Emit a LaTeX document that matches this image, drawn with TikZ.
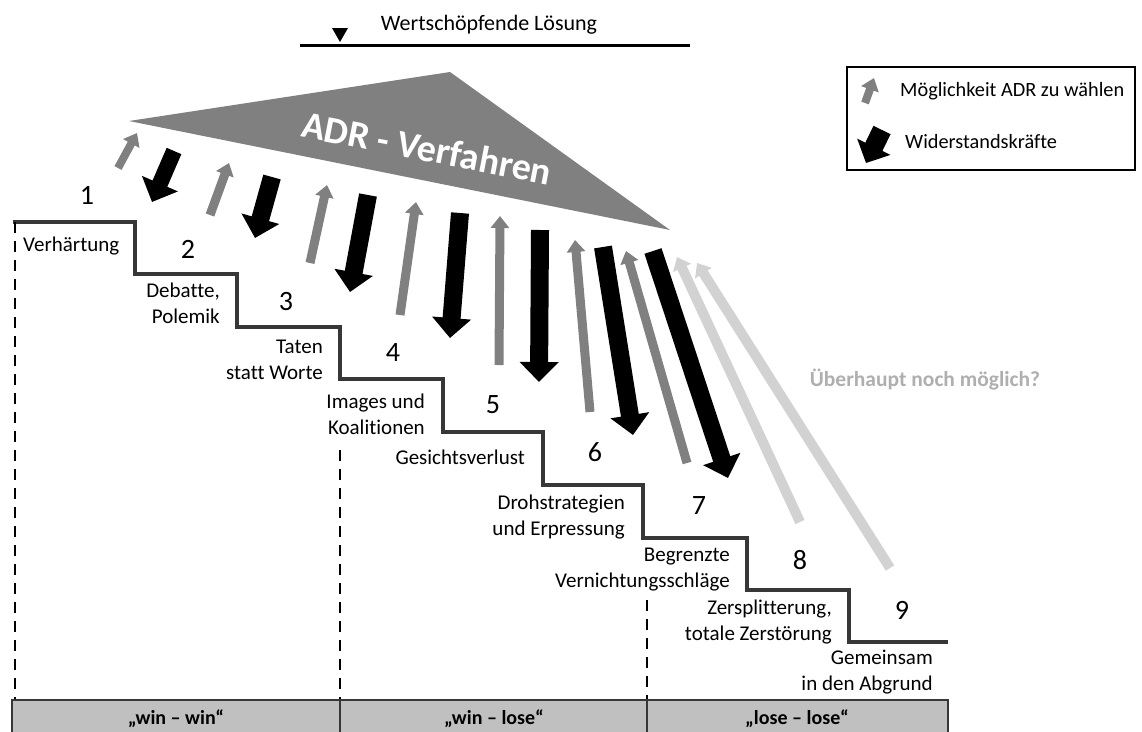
\documentclass[tikz,border=0pt]{standalone}
\usepackage{fontspec}
\setmainfont[Ligatures=NoCommon]{Carlito}
\usetikzlibrary{arrows.meta}
\definecolor{adrgrey}{RGB}{128,128,128}
\definecolor{faintgrey}{RGB}{210,210,210}
\definecolor{stairgrey}{RGB}{55,55,55}
\definecolor{barfill}{RGB}{192,192,192}
\definecolor{questgrey}{RGB}{175,175,175}
\begin{document}
\begin{tikzpicture}[x=1pt, y=-1pt,
	stufe/.style={font=\fontsize{21}{26}\selectfont, align=right, inner sep=0pt},
	nummer/.style={font=\fontsize{28}{30}\selectfont, inner sep=0pt},
	chance/.style={draw=adrgrey, line width=9pt, -{Triangle[width=18pt,length=12pt]}},
	resist/.style={draw=black, line width=18pt, -{Triangle[width=38pt,length=20pt]}},
	faint/.style={draw=faintgrey, line width=10pt, -{Triangle[width=19pt,length=12pt]}},
	grenze/.style={line width=2.5pt, dash pattern=on 11pt off 8pt}]

		\useasboundingbox (0,0) rectangle (1142,731);

		% Define the nodes
		\node[font=\fontsize{22}{26}\selectfont] (loesung) at (489,25) {Wertschöpfende Lösung};
		\fill[adrgrey] (129,121) -- (450,72) -- (670,230) -- cycle;
		\node[rotate=-11, text=white, font=\fontsize{38}{40}\selectfont\bfseries] (adr) at (427,148) {ADR - Verfahren};
		\node[font=\fontsize{21.5}{26}\selectfont\bfseries, text=questgrey] (moeglich) at (925,380) {Überhaupt noch möglich?};

		% Legend
		\draw[line width=1.5pt] (847,67) rectangle (1135,170);
		\node[stufe, font=\fontsize{20.3}{26}\selectfont, anchor=west] (legchance) at (900,91) {Möglichkeit ADR zu wählen};
		\node[stufe, font=\fontsize{20.3}{26}\selectfont, anchor=west] (legresist) at (905,142) {Widerstandskräfte};
		\draw[chance, line width=8pt] (865,103) -- (874,78);
		\draw[resist, line width=19pt, -{Triangle[width=36pt,length=18pt]}] (882,130) -- (866,163);

		% Define the edges
		\draw[line width=3pt] (300,45) -- (690,45);
		\fill (332,28) -- (348,28) -- (340,42) -- cycle;
		\draw[stairgrey, line width=4pt] (13,222) -| (135,274) -| (237,327) -| (340,379) -| (443,432)
			-| (543,485) -| (643,538) -| (747,590) -| (849,642) -- (948,642);
		\draw[grenze] (15,222) -- (15,700);
		\draw[grenze] (340,450) -- (340,700);
		\draw[grenze] (647,600) -- (647,700);

		% Add arrows
		\draw[chance, line width=8pt] (118,168) -- (137,133);
		\draw[resist, line width=16pt] (174,151) -- (152,202);
		\draw[chance] (210,215) -- (229,163);
		\draw[resist] (272,177) -- (255,238);
		\draw[chance] (310,263) -- (327,185);
		\draw[resist] (368,195) -- (350,292);
		\draw[chance] (400,315) -- (416,202);
		\draw[resist] (460,213) -- (450,338);
		\draw[chance] (499,365) -- (500,216);
		\draw[resist] (540,230) -- (539,382);
		\draw[chance] (590,412) -- (575,240);
		\draw[resist] (603,247) -- (633,435);
		\draw[chance] (687,463) -- (626,251);
		\draw[resist] (653,251) -- (728,478);
		\draw[faint] (800,522) -- (677,257);
		\draw[faint] (890,568) -- (697,263);

		% Add labels for steps
		\node[nummer] (n1) at (87,195) {1};
		\node[nummer] (n2) at (188,249) {2};
		\node[nummer] (n3) at (286,302) {3};
		\node[nummer] (n4) at (393,353) {4};
		\node[nummer] (n5) at (493,405) {5};
		\node[nummer] (n6) at (595,452) {6};
		\node[nummer] (n7) at (699,506) {7};
		\node[nummer] (n8) at (800,560) {8};
		\node[nummer] (n9) at (902,610) {9};

		\node[stufe, anchor=west] (verhaertung) at (23,246) {Verhärtung};
		\node[stufe, anchor=east] (debatte) at (220,303) {Debatte,\\Polemik};
		\node[stufe, anchor=east] (taten) at (323,360) {Taten\\statt Worte};
		\node[stufe, anchor=east] (images) at (425,414) {Images und\\Koalitionen};
		\node[stufe, anchor=east] (gesicht) at (525,457) {Gesichtsverlust};
		\node[stufe, anchor=east] (droh) at (625,517) {Drohstrategien\\und Erpressung};
		\node[stufe, anchor=east] (begrenzt) at (730,570) {Begrenzte\\Vernichtungsschläge};
		\node[stufe, anchor=east] (zersplitter) at (832,622) {Zersplitterung,\\totale Zerstörung};
		\node[stufe, anchor=east] (abgrund) at (933,672) {Gemeinsam\\in den Abgrund};

		% Add labels for outcomes
		\draw[fill=barfill, draw=stairgrey, line width=2pt] (12,700) rectangle (948,736);
		\draw[stairgrey, line width=2pt] (340,700) -- (340,736);
		\draw[stairgrey, line width=2pt] (647,700) -- (647,736);
		\node[stufe, font=\fontsize{20}{24}\selectfont\bfseries] (winwin) at (176,719) {„win – win“};
		\node[stufe, font=\fontsize{20}{24}\selectfont\bfseries] (winlose) at (494,719) {„win – lose“};
		\node[stufe, font=\fontsize{20}{24}\selectfont\bfseries] (loselose) at (797,719) {„lose – lose“};

	\end{tikzpicture}
\end{document}
